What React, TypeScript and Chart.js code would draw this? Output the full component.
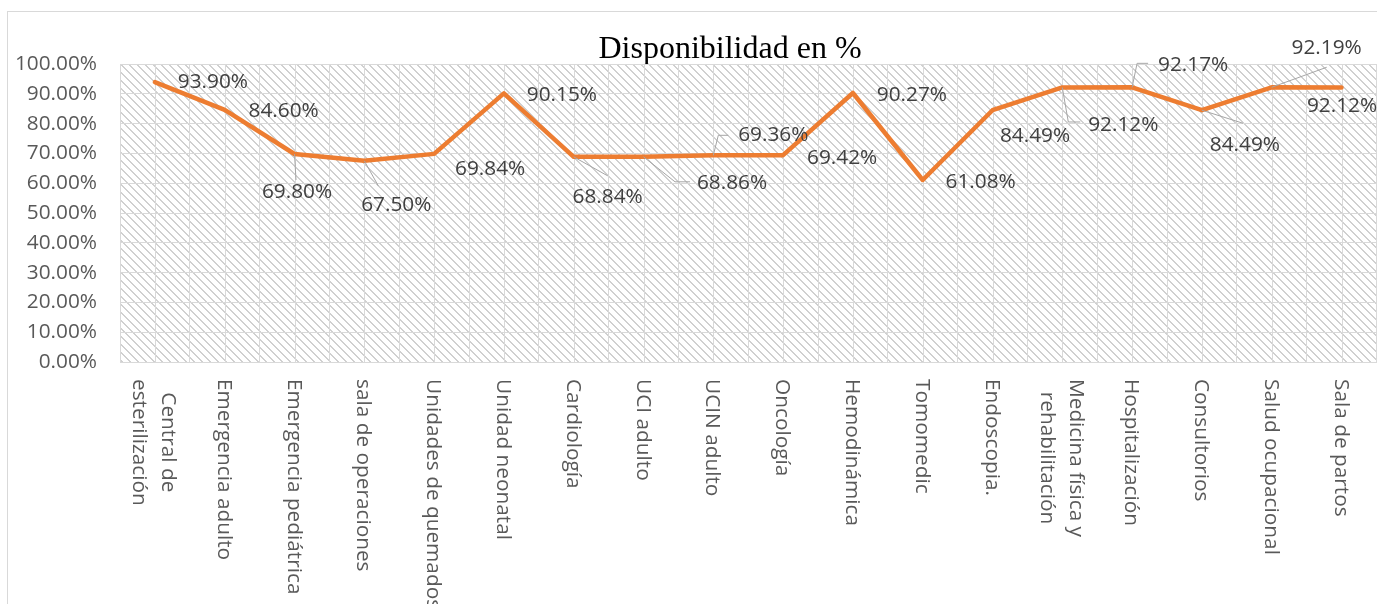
import React, { useEffect, useRef } from "react";
import { Chart, registerables } from "chart.js";

Chart.register(...registerables);

const categories: (string | string[])[] = [
  ["Central de", "esterilización"],
  "Emergencia adulto",
  "Emergencia pediátrica",
  "sala de operaciones",
  "Unidades de quemados",
  "Unidad neonatal",
  "Cardiología",
  "UCI adulto",
  "UCIN adulto",
  "Oncología",
  "Hemodinámica",
  "Tomomedic",
  "Endoscopia.",
  ["Medicina física y", "rehabilitación"],
  "Hospitalización",
  "Consultorios",
  "Salud ocupacional",
  "Sala de partos",
];

const disponibilidad: number[] = [
  93.9, 84.6, 69.8, 67.5, 69.84, 90.15, 68.84, 68.86, 69.36, 69.42, 90.27, 61.08,
  84.49, 92.12, 92.17, 84.49, 92.19, 92.12,
];

const yTicks = { min: 0, max: 100, step: 10 };

const TITLE = "Disponibilidad en %";

// label placement (offset from point, px) and optional leader line points (relative to label centre)
const labelLayout: { dx: number; dy: number; leader?: number[][] }[] = [
  { dx: 58, dy: 0 },
  { dx: 59, dy: 1 },
  { dx: 2.5, dy: 38, leader: [[-1, -12]] },
  { dx: 32, dy: 44, leader: [[-18, -19]] },
  { dx: 56, dy: 15 },
  { dx: 58, dy: 2 },
  { dx: 34, dy: 40, leader: [[0, -21]] },
  { dx: 88.5, dy: 26, leader: [[-57, -1], [-42, -1]] },
  { dx: 60, dy: -20, leader: [[-55, 0], [-45, 0]] },
  { dx: 59, dy: 3 },
  { dx: 59, dy: 2 },
  { dx: 58, dy: 2 },
  { dx: 42.5, dy: 26 },
  { dx: 61, dy: 37.5, leader: [[-55, -3], [-43, -3]] },
  { dx: 61, dy: -22, leader: [[-56, -2], [-45, -2]] },
  { dx: 43, dy: 35, leader: [[-2, -22]] },
  { dx: 55, dy: -39, leader: [[0, 19]] },
  { dx: 0.5, dy: 18.5 },
];

const W = 1400;
const H = 620;
const FONT = '"Open Sans", "Liberation Sans", sans-serif';
const FS = 20.8;
const GRID = "#d9d9d9";

function makePattern(ctx: CanvasRenderingContext2D): CanvasPattern | string {
  const c = document.createElement("canvas");
  c.width = 8;
  c.height = 8;
  const p = c.getContext("2d");
  if (!p) return "#ffffff";
  p.fillStyle = "#ffffff";
  p.fillRect(0, 0, 8, 8);
  p.fillStyle = "#d0d0d0";
  for (let i = 0; i < 8; i++) {
    p.fillRect(i, i, 1, 1);
    p.fillRect((i + 1) % 8, i, 1, 1);
  }
  return ctx.createPattern(c, "repeat") || "#ffffff";
}

const decorPlugin = {
  id: "decor",
  beforeDraw(chart: any) {
    const { ctx, chartArea } = chart;
    ctx.save();
    ctx.fillStyle = "#ffffff";
    ctx.fillRect(0, 0, chart.width, chart.height);
    ctx.strokeStyle = GRID;
    ctx.lineWidth = 1;
    ctx.strokeRect(7.5, 11.5, chart.width + 20, chart.height + 20);
    ctx.fillStyle = makePattern(ctx);
    ctx.fillRect(chartArea.left, chartArea.top, chartArea.right - chartArea.left, chartArea.bottom - chartArea.top);
    ctx.fillStyle = "#000000";
    ctx.font = '32px "Liberation Serif", "Times New Roman", serif';
    ctx.textAlign = "center";
    ctx.textBaseline = "alphabetic";
    ctx.fillText(TITLE, 730, 58);
    ctx.restore();
  },
  beforeDatasetsDraw(chart: any) {
    const { ctx, chartArea } = chart;
    const x = chart.scales.x;
    ctx.save();
    ctx.strokeStyle = GRID;
    ctx.lineWidth = 1;
    for (let i = 0; i < categories.length; i++) {
      const px = Math.round(x.getPixelForValue(i)) + 0.5;
      ctx.beginPath();
      ctx.moveTo(px, chartArea.top);
      ctx.lineTo(px, chartArea.bottom);
      ctx.stroke();
    }
    // x category labels, rotated clockwise
    ctx.fillStyle = "#595959";
    ctx.font = FS + "px " + FONT;
    ctx.textBaseline = "middle";
    ctx.textAlign = "left";
    const top = chartArea.bottom + 17;
    const lh = 29;
    categories.forEach((c, i) => {
      const lines = Array.isArray(c) ? c : [c];
      const widths = lines.map((l) => ctx.measureText(l).width);
      const maxW = Math.max(...widths);
      const cx = x.getPixelForValue(i) - 1;
      ctx.save();
      ctx.translate(cx, top);
      ctx.rotate(Math.PI / 2);
      lines.forEach((l, j) => {
        const yy = (j - (lines.length - 1) / 2) * lh;
        ctx.fillText(l, (maxW - widths[j]) / 2, yy);
      });
      ctx.restore();
    });
    ctx.restore();
  },
  afterDatasetsDraw(chart: any) {
    const { ctx } = chart;
    const meta = chart.getDatasetMeta(0);
    ctx.save();
    ctx.font = FS + "px " + FONT;
    ctx.textAlign = "center";
    ctx.textBaseline = "middle";
    meta.data.forEach((pt: any, i: number) => {
      const lay = labelLayout[i];
      const cx = pt.x + lay.dx;
      const cy = pt.y + lay.dy;
      if (lay.leader) {
        ctx.strokeStyle = "#a6a6a6";
        ctx.lineWidth = 1;
        ctx.beginPath();
        ctx.moveTo(pt.x, pt.y);
        lay.leader.forEach((p) => ctx.lineTo(cx + p[0], cy + p[1]));
        ctx.stroke();
      }
      ctx.fillStyle = "#404040";
      ctx.fillText(disponibilidad[i].toFixed(2) + "%", cx, cy);
    });
    ctx.restore();
  },
};

export default function App() {
  const ref = useRef<HTMLCanvasElement | null>(null);
  useEffect(() => {
    if (!ref.current) return;
    const chart = new Chart(ref.current, {
      type: "line",
      data: {
        labels: categories.map((c) => (Array.isArray(c) ? c.join(" ") : c)),
        datasets: [
          {
            data: disponibilidad,
            borderColor: "#ED7D31",
            backgroundColor: "#ED7D31",
            borderWidth: 4.5,
            pointRadius: 0,
            tension: 0,
            borderJoinStyle: "round",
            borderCapStyle: "round",
          },
        ],
      },
      options: {
        responsive: false,
        animation: false,
        devicePixelRatio: 1,
        layout: { padding: { top: 64, left: 0, right: W - 1376.4, bottom: 0 } },
        plugins: { legend: { display: false }, title: { display: false }, tooltip: { enabled: false } },
        scales: {
          x: {
            type: "category",
            offset: true,
            grid: { offset: true, color: GRID, drawTicks: false },
            border: { color: GRID },
            ticks: { display: false },
            afterFit: (s: any) => {
              s.height = H - 362;
            },
          },
          y: {
            min: yTicks.min,
            max: yTicks.max,
            grid: { color: GRID, drawTicks: false },
            border: { display: false },
            ticks: {
              stepSize: yTicks.step,
              padding: 23,
              color: "#595959",
              font: { family: FONT, size: FS },
              callback: (v: any) => Number(v).toFixed(2) + "%",
            },
            afterFit: (s: any) => {
              s.width = 120;
            },
          },
        },
      },
      plugins: [decorPlugin],
    });
    return () => chart.destroy();
  }, []);
  return (
    <div style={{ position: "fixed", left: 0, top: 0, width: 1377, height: 604, overflow: "hidden", background: "#fff" }}>
      <canvas ref={ref} width={W} height={H} style={{ display: "block" }} />
    </div>
  );
}
